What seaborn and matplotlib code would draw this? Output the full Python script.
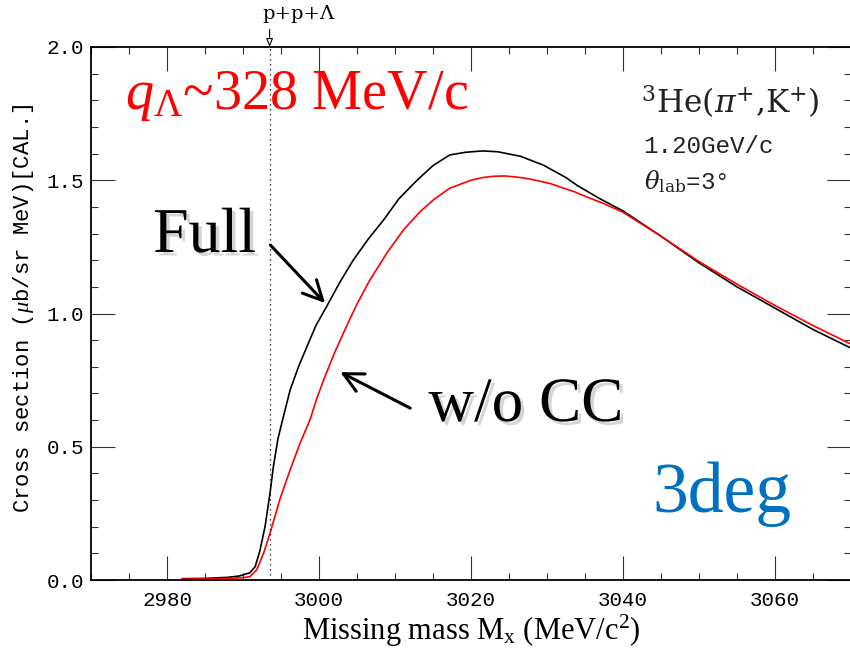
import matplotlib
matplotlib.use("Agg")
import matplotlib.pyplot as plt
import matplotlib.patheffects as pe
from matplotlib.ticker import MultipleLocator
import pandas as pd
import seaborn as sns

# Missing-mass spectrum of 3He(pi+,K+) at 1.20 GeV/c, theta_lab = 3 deg
mass_full = [2982, 2985, 2988, 2989.5, 2990.9, 2991.6, 2992.2, 2992.9, 2993.55,
             2994.0, 2994.6, 2995.2, 2996.2, 2997.3, 2998.4, 2999.6, 3001.0,
             3002.7, 3004.5, 3006.5, 3008.5, 3010.5, 3012.9, 3015.0, 3017.2,
             3019.3, 3021.5, 3023.5, 3026.5, 3029.5, 3032.5, 3034, 3037,
             3040, 3045, 3050, 3055, 3060, 3065, 3070]
xsec_full = [0.005, 0.006, 0.010, 0.015, 0.027, 0.050, 0.107, 0.200, 0.325,
             0.426, 0.530, 0.600, 0.713, 0.800, 0.875, 0.955, 1.026,
             1.115, 1.200, 1.280, 1.351, 1.430, 1.500, 1.555, 1.595,
             1.605, 1.610, 1.607, 1.590, 1.557, 1.510, 1.480, 1.430,
             1.385, 1.290, 1.190, 1.100, 1.020, 0.940, 0.870]

mass_wocc = [2982, 2985, 2988, 2990, 2990.9, 2991.8, 2992.7, 2993.55, 2994.9,
             2996.2, 2997.5, 2998.8, 2999.7, 3000.6, 3002.0, 3003.2, 3004.9,
             3006.7, 3009.0, 3011.1, 3013.3, 3015.2, 3017.2, 3020, 3021.5,
             3023, 3024.5, 3026, 3027.5, 3029, 3030.5, 3032, 3033.5, 3035,
             3037.5, 3040, 3045, 3050, 3055, 3060, 3065, 3070]
xsec_wocc = [0.003, 0.004, 0.006, 0.009, 0.012, 0.038, 0.100, 0.175, 0.307,
             0.413, 0.513, 0.600, 0.680, 0.750, 0.850, 0.926, 1.030,
             1.126, 1.230, 1.313, 1.382, 1.430, 1.470, 1.500, 1.510,
             1.515, 1.516, 1.512, 1.506, 1.497, 1.487, 1.472, 1.458, 1.440,
             1.412, 1.380, 1.290, 1.195, 1.110, 1.030, 0.955, 0.885]

series_names = ["Full", "w/o CC"]
threshold_mass = 2993.5          # p+p+Lambda threshold
threshold_label = "p+p+Λ"

x_ticks = [2980, 3000, 3020, 3040, 3060]
y_ticks = [0.0, 0.5, 1.0, 1.5, 2.0]

df = pd.concat([
    pd.DataFrame({"mass": mass_full, "xsec": xsec_full, "calc": series_names[0]}),
    pd.DataFrame({"mass": mass_wocc, "xsec": xsec_wocc, "calc": series_names[1]}),
], ignore_index=True)

sns.set_theme(style="ticks")
plt.rcParams["mathtext.fontset"] = "custom"
plt.rcParams["mathtext.rm"] = "Liberation Serif"
plt.rcParams["mathtext.it"] = "Liberation Serif:italic"
plt.rcParams["mathtext.bf"] = "Liberation Serif:bold"
plt.rcParams["text.color"] = "black"
plt.rcParams["axes.labelcolor"] = "black"
plt.rcParams["xtick.labelcolor"] = "black"
plt.rcParams["ytick.labelcolor"] = "black"

fig = plt.figure(figsize=(8.5, 6.49), dpi=100)
ax = fig.add_axes([91 / 850, 69 / 649, 760 / 850, 533 / 649])

sns.lineplot(data=df, x="mass", y="xsec", hue="calc",
             palette={"Full": "black", "w/o CC": "#ff0000"},
             estimator=None, sort=False, legend=False, lw=1.2, ax=ax)

ax.set_xlim(2970, 3070)
ax.set_ylim(0, 2.0)
ax.set_xticks(x_ticks)
ax.set_yticks(y_ticks)
ax.xaxis.set_minor_locator(MultipleLocator(5))
ax.yaxis.set_minor_locator(MultipleLocator(0.1))
ax.set_xticklabels([str(v) for v in x_ticks], family="Liberation Mono", fontsize=15)
ax.set_yticklabels([f"{v:.1f}" for v in y_ticks], family="Liberation Mono", fontsize=15)
ax.tick_params(which="both", direction="in", top=True, right=True,
               width=0.8, color="#333333")
ax.tick_params(which="major", length=17)
ax.tick_params(axis="x", which="major", pad=8)
ax.tick_params(axis="y", which="major", pad=5)
ax.tick_params(which="minor", length=5)
for s in ax.spines.values():
    s.set_linewidth(1.3)
    s.set_color("black")

ax.set_xlabel(r"Missing mass M$_{\mathrm{x}}$ (MeV/c$^{2}$)",
              family="Liberation Serif", fontsize=22)
ax.set_ylabel(r"Cross section ($\mu$b/sr MeV)[CAL.]",
              family="Liberation Mono", fontsize=16)
ax.xaxis.set_label_coords(0.5, -0.062)
ax.yaxis.set_label_coords(-0.073, 0.51)

# threshold marker
ax.axvline(threshold_mass, color="black", lw=0.9, ls=(0, (1, 3)))
ax.annotate("", xy=(threshold_mass, 2.0), xytext=(threshold_mass, 2.066),
            annotation_clip=False,
            arrowprops=dict(arrowstyle="-|>,head_length=0.5,head_width=0.2",
                            fc="white", ec="black", lw=0.8, mutation_scale=10,
                            shrinkA=0, shrinkB=0))
ax.text(threshold_mass - 0.9, 2.105, threshold_label, family="DejaVu Serif",
        fontsize=14, ha="left", va="baseline", clip_on=False)


def axfrac(px, py):
    return (px - 91) / 759, (580 - py) / 533


ax.text(*axfrac(125, 109), r"$q_{\Lambda}$~328 MeV/c", transform=ax.transAxes,
        family="Liberation Serif", fontsize=40.5, color="#ff0000", va="baseline")

ax.text(*axfrac(640, 113), r"$^{3}$He($\pi^{+}$,K$^{+}$)", transform=ax.transAxes,
        family="DejaVu Serif", math_fontfamily="dejavuserif", fontsize=22.5,
        va="baseline", color="#222222")
ax.text(*axfrac(643, 153), "1.20GeV/c", transform=ax.transAxes,
        family="Liberation Mono", fontsize=17.5, va="baseline", color="#222222")
ax.text(*axfrac(643, 189), r"$\theta_{\mathrm{lab}}$=3°", transform=ax.transAxes,
        family="Liberation Mono", math_fontfamily="dejavuserif", fontsize=17.5,
        va="baseline", color="#222222")

shadow = [pe.withSimplePatchShadow(offset=(2.5, -2.5), shadow_rgbFace="#888888", alpha=0.35)]
ax.text(*axfrac(153, 252), "Full", transform=ax.transAxes, color="black",
        family="Liberation Serif", fontsize=46, va="baseline", path_effects=shadow)
ax.text(*axfrac(428, 421), "w/o CC", transform=ax.transAxes, color="black",
        family="Liberation Serif", fontsize=45.5, va="baseline", path_effects=shadow)
ax.text(*axfrac(652, 512), "3deg", transform=ax.transAxes,
        family="Liberation Serif", fontsize=51.5, va="baseline", color="#0070c0")

arrow_kw = dict(arrowstyle="->,head_length=0.7,head_width=0.35", lw=2.2,
                color="black", mutation_scale=20, shrinkA=0, shrinkB=0)
ax.annotate("", xy=(3000.8, 1.039), xytext=(2993.6, 1.257), arrowprops=arrow_kw)
ax.annotate("", xy=(3002.8, 0.780), xytext=(3012.0, 0.645), arrowprops=arrow_kw)

fig.savefig("out.png", dpi=100, facecolor="white")
